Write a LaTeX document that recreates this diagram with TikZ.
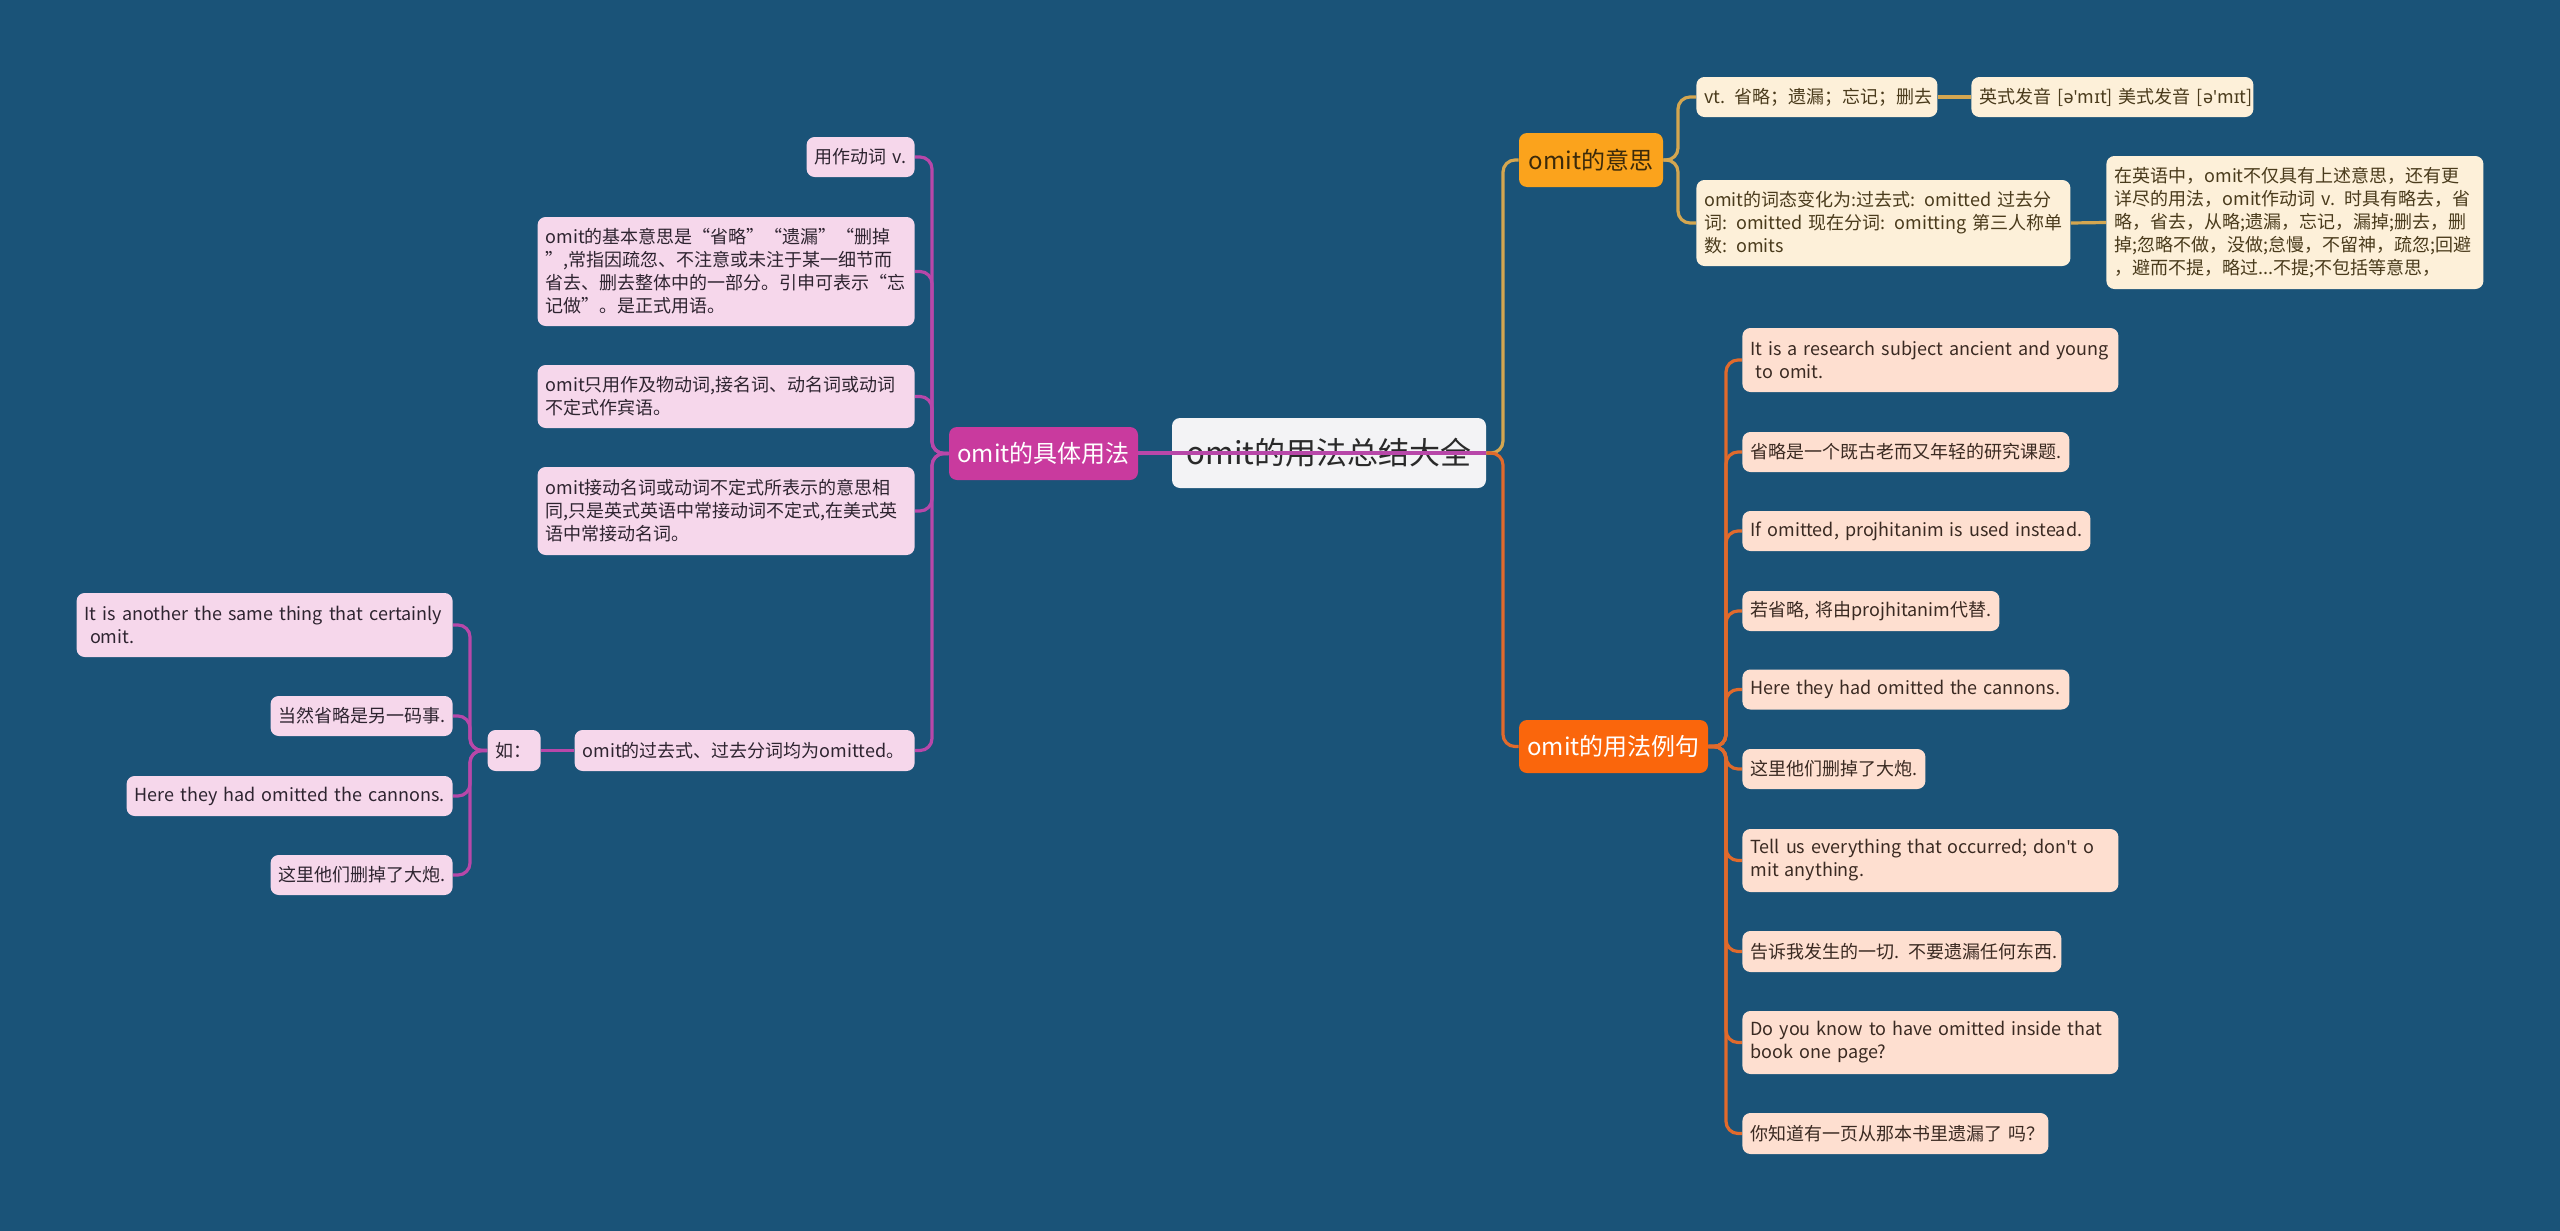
\documentclass[tikz,border=0pt]{standalone}
\usepackage{fontspec}
\setmainfont{Noto Sans CJK SC}
\newfontfamily\ipafont{Noto Sans}
\newcommand\ap{{\ipafont\char"0027\relax}}
\newcommand\LL[1]{\mbox{#1}}
\usetikzlibrary{backgrounds}
\definecolor{bg}{HTML}{1A5378}
\definecolor{centerfill}{HTML}{F3F3F5}
\definecolor{centertext}{HTML}{2A2A2A}
\definecolor{magfill}{HTML}{C93A9E}
\definecolor{magline}{HTML}{B847A9}
\definecolor{pinkfill}{HTML}{F6D7EB}
\definecolor{pinktext}{HTML}{2E2430}
\definecolor{yelfill}{HTML}{FBA31C}
\definecolor{yeltext}{HTML}{3C2A0A}
\definecolor{yelline}{HTML}{D4A650}
\definecolor{creamfill}{HTML}{FDF0D9}
\definecolor{creamtext}{HTML}{4A3B1C}
\definecolor{orfill}{HTML}{FA660C}
\definecolor{orline}{HTML}{E06A2C}
\definecolor{peachfill}{HTML}{FEDFD0}
\definecolor{peachtext}{HTML}{3A2A22}
\begin{document}
\begin{tikzpicture}[x=0.5pt,y=-0.5pt,
  box/.style={rounded corners=4pt, inner xsep=4pt, inner ysep=2pt, align=left,
    font=\fontsize{9}{11.5}\selectfont},
  pk/.style={box, fill=pinkfill, text=pinktext, anchor=east},
  cr/.style={box, fill=creamfill, text=creamtext, anchor=west},
  pc/.style={box, fill=peachfill, text=peachtext, anchor=west},
  branch/.style={rounded corners=4pt, inner sep=0pt, align=center,
    font=\fontsize{12}{14}\selectfont, minimum height=26.5pt},
  lm/.style={draw=magline, line width=1.6pt, rounded corners=6pt},
  ly/.style={draw=yelline, line width=1.6pt, rounded corners=6pt},
  lo/.style={draw=orline, line width=1.6pt, rounded corners=6pt}]

% ---------- centre and branches ----------
\node[rounded corners=4pt, fill=centerfill, text=centertext, inner sep=0pt,
  minimum width=157pt, minimum height=35pt, font=\fontsize{15.5}{18}\selectfont]
  (center) at (1329,453) {omit的用法总结大全};
\node[branch, fill=magfill, text=white, minimum width=94.5pt] (L0) at (1043.5,453.5) {omit的具体用法};
\node[branch, fill=yelfill, text=yeltext, minimum width=72pt, minimum height=27pt] (R1) at (1591,160) {omit的意思};
\node[branch, fill=orfill, text=white, minimum width=94.5pt] (R2) at (1613.5,746.5) {omit的用法例句};

% ---------- omit的意思 children ----------
\node[cr, text width=112.5pt, minimum height=20pt] (a1) at (1696,97) {\LL{vt. 省略；遗漏；忘记；删去}};
\node[cr, text width=133pt, minimum height=20pt] (a1b) at (1971,97)
  {\LL{英式发音 [{\ipafont ə}\ap m{\ipafont ɪ}t] 美式发音 [{\ipafont ə}\ap m{\ipafont ɪ}t]}};
\node[cr, text width=179pt, minimum height=43pt] (a2) at (1696,223)
  {\LL{omit的词态变化为:过去式: omitted 过去分}\\\LL{词: omitted 现在分词: omitting 第三人称单}\\\LL{数: omits}};
\node[cr, text width=180.5pt, minimum height=66.5pt] (a2b) at (2106,222.5)
  {\LL{在英语中，omit不仅具有上述意思，还有更}\\\LL{详尽的用法，omit作动词 v. 时具有略去，省}\\\LL{略，省去，从略;遗漏，忘记，漏掉;删去，删}\\\LL{掉;忽略不做，没做;怠慢，不留神，疏忽;回避}\\\LL{，避而不提，略过...不提;不包括等意思，}};

% ---------- omit的用法例句 children ----------
\node[pc, text width=180pt, minimum height=32pt] (b1) at (1742,360)
  {\LL{It is a research subject ancient and young}\\\LL{\hspace*{0.3em}to omit.}};
\node[pc, text width=155.5pt, minimum height=20pt] (b2) at (1742,452) {\LL{省略是一个既古老而又年轻的研究课题.}};
\node[pc, text width=166pt, minimum height=20pt] (b3) at (1742,531) {\LL{If omitted, projhitanim is used instead.}};
\node[pc, text width=120.5pt, minimum height=20pt] (b4) at (1742,611) {\LL{若省略, 将由projhitanim代替.}};
\node[pc, text width=155.5pt, minimum height=20pt] (b5) at (1742,689.5) {\LL{Here they had omitted the cannons.}};
\node[pc, text width=83.5pt, minimum height=20pt] (b6) at (1742,769) {\LL{这里他们删掉了大炮.}};
\node[pc, text width=180pt, minimum height=31.5pt] (b7) at (1742,860.5)
  {\LL{Tell us everything that occurred; don\ap t o}\\\LL{mit anything.}};
\node[pc, text width=151.5pt, minimum height=20.5pt] (b8) at (1742,951.5) {\LL{告诉我发生的一切. 不要遗漏任何东西.}};
\node[pc, text width=180pt, minimum height=31.5pt] (b9) at (1742,1042.5)
  {\LL{Do you know to have omitted inside that}\\\LL{book one page?}};
\node[pc, text width=145pt, minimum height=20.5pt] (b10) at (1742,1133.5) {\LL{你知道有一页从那本书里遗漏了 吗？}};

% ---------- omit的具体用法 children ----------
\node[pk, text width=46pt, minimum height=20pt] (c1) at (915,157) {\LL{用作动词 v.}};
\node[pk, text width=180.5pt, minimum height=54.5pt] (c2) at (915,271.5)
  {\LL{omit的基本意思是“省略”“遗漏”“删掉}\\\LL{”,常指因疏忽、不注意或未注于某一细节而}\\\LL{省去、删去整体中的一部分。引申可表示“忘}\\\LL{记做”。是正式用语。}};
\node[pk, text width=180.5pt, minimum height=31.5pt] (c3) at (915,396.5)
  {\LL{omit只用作及物动词,接名词、动名词或动词}\\\LL{不定式作宾语。}};
\node[pk, text width=180.5pt, minimum height=44pt] (c4) at (915,511)
  {\LL{omit接动名词或动词不定式所表示的意思相}\\\LL{同,只是英式英语中常接动词不定式,在美式英}\\\LL{语中常接动名词。}};
\node[pk, text width=162pt, minimum height=20.5pt] (c5) at (915,750.5) {\LL{omit的过去式、过去分词均为omitted。}};
\node[pk, text width=18.5pt, minimum height=20.5pt] (ru) at (541,750.5) {\LL{如：}};
\node[pk, text width=180pt, minimum height=32pt] (d1) at (453,625)
  {\LL{It is another the same thing that certainly}\\\LL{\hspace*{0.3em}omit.}};
\node[pk, text width=83pt, minimum height=20pt] (d2) at (453,716) {\LL{当然省略是另一码事.}};
\node[pk, text width=155pt, minimum height=20pt] (d3) at (453,796) {\LL{Here they had omitted the cannons.}};
\node[pk, text width=83pt, minimum height=20pt] (d4) at (453,875) {\LL{这里他们删掉了大炮.}};

% trunk positions
\coordinate (tR) at (1503,453);
\coordinate (tA) at (1678,160);
\coordinate (tB) at (1726,746);
\coordinate (tC) at (932,453);
\coordinate (tD) at (470,750);

\begin{scope}[on background layer]
  \fill[bg] (0,0) rectangle (2560,1231);
  % centre to right branches
  \draw[ly] (center.east) -- (center.east -| tR) |- (R1.west);
  \draw[lo] (center.east) -- (center.east -| tR) |- (R2.west);
  % omit的意思
  \foreach \n in {a1,a2} \draw[ly] (R1.east) -- (R1.east -| tA) |- (\n.west);
  \draw[ly] (a1.east) -- (a1b.west);
  \draw[ly] (a2.east) -- (a2b.west);
  % omit的用法例句
  \foreach \n in {b1,b2,b3,b4,b5,b6,b7,b8,b9,b10} \draw[lo] (R2.east) -- (R2.east -| tB) |- (\n.west);
  % omit的具体用法
  \foreach \n in {c1,c2,c3,c4,c5} \draw[lm] (L0.west) -- (L0.west -| tC) |- (\n.east);
  \draw[lm] (c5.west) -- (ru.east);
  \foreach \n in {d1,d2,d3,d4} \draw[lm] (ru.west) -- (ru.west -| tD) |- (\n.east);
\end{scope}

% the magenta link passes over the central node
\draw[lm] (center.east) -- (center.east -| L0.east);

\useasboundingbox (0,0) rectangle (2560,1231);
\end{tikzpicture}
\end{document}
